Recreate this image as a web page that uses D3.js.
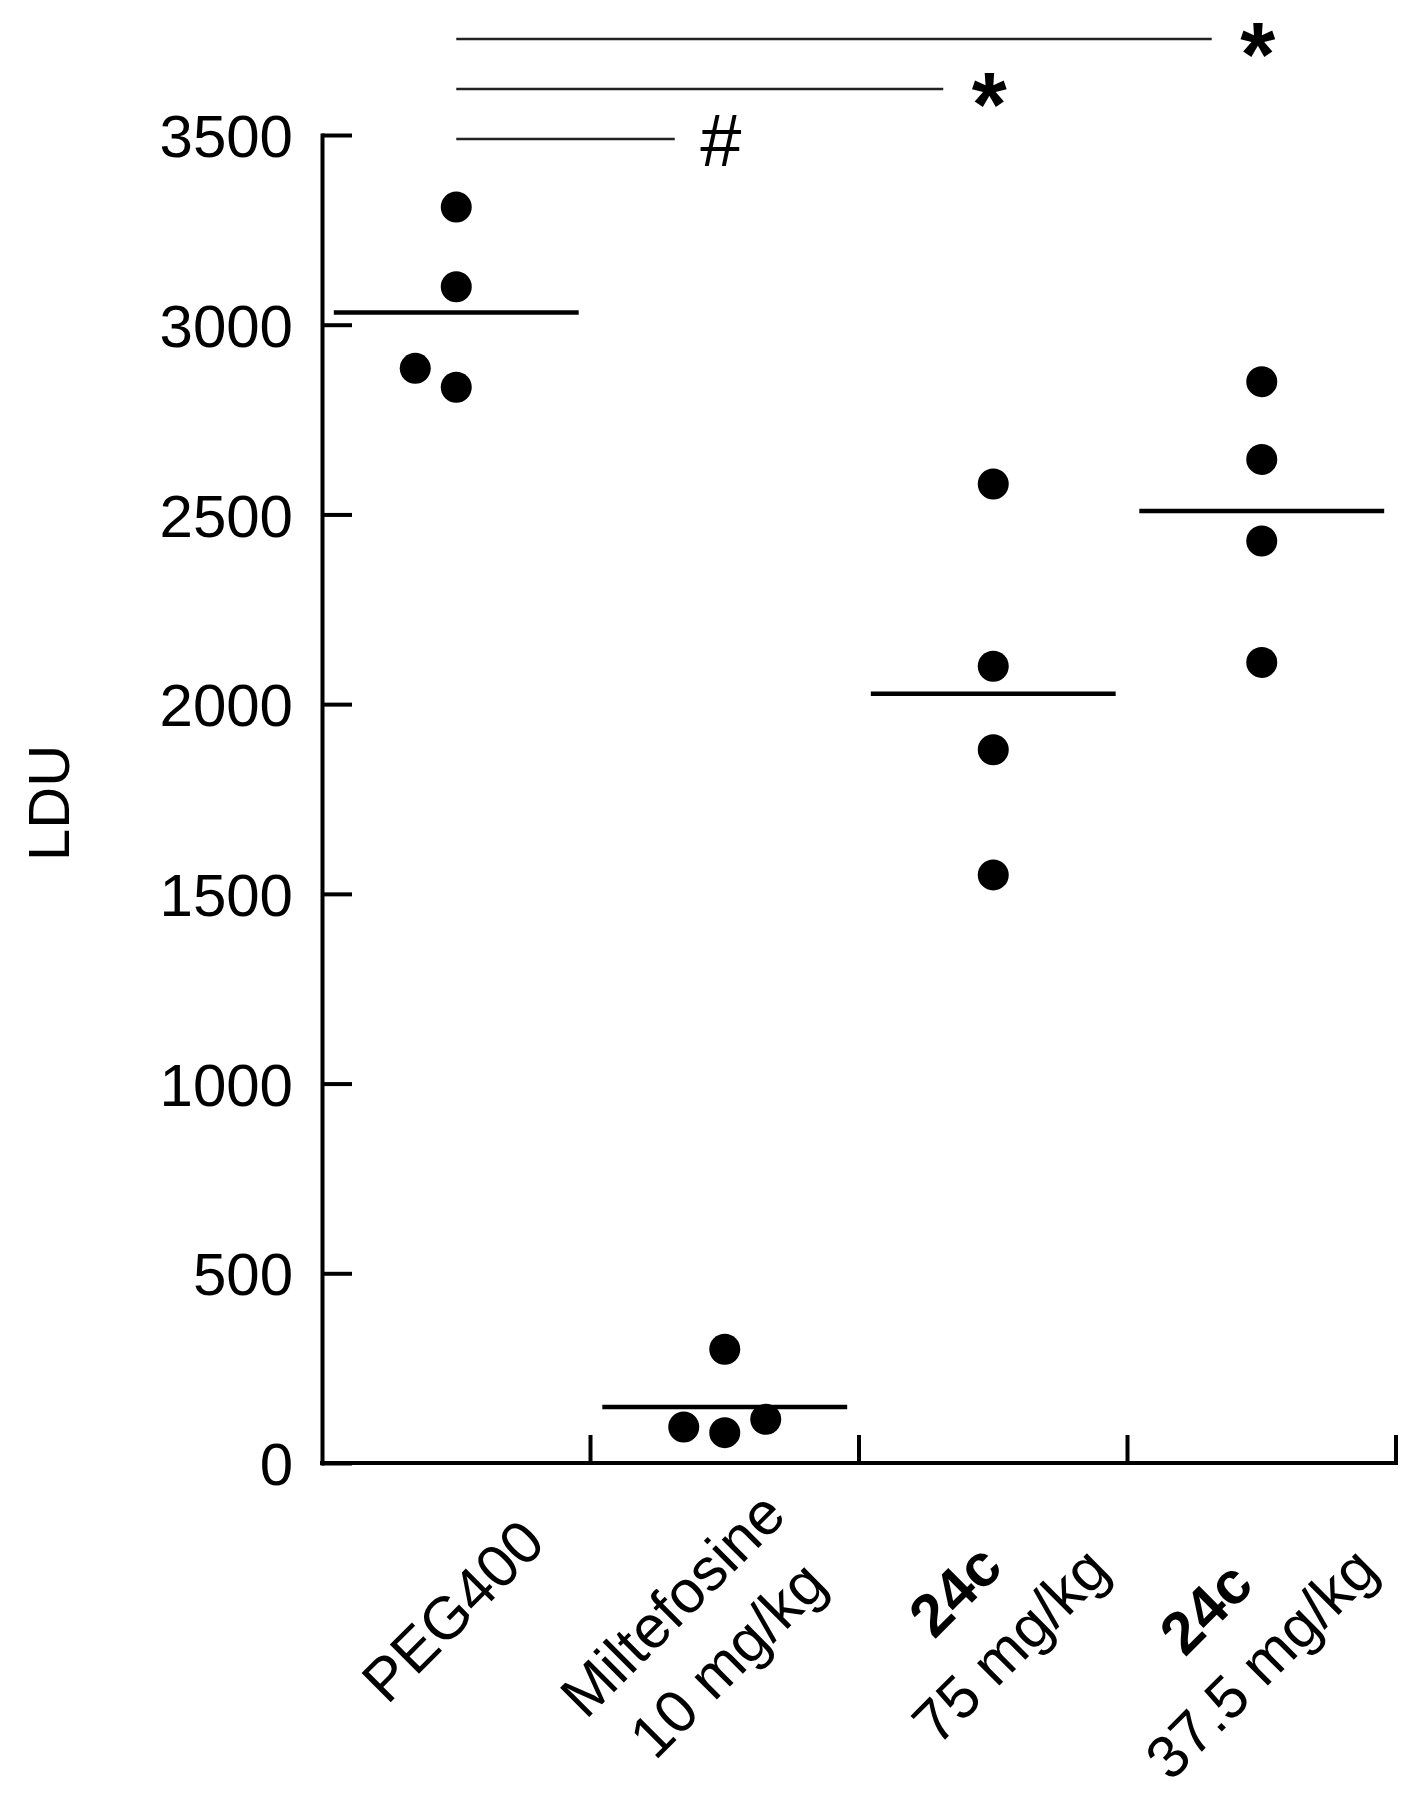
<!DOCTYPE html>
<html>
<head>
<meta charset="utf-8">
<script src="https://cdn.jsdelivr.net/npm/d3@7"></script>
<style>
  body { margin: 0; background: #fff; }
  svg { display: block; }
</style>
</head>
<body>
<div id="chart"></div>
<script>
// groups on the x axis and how their labels break into lines
const groups = ['PEG400', 'Miltefosine 10 mg/kg', '24c 75 mg/kg', '24c 37.5 mg/kg'];
const labelLines = [['PEG400'], ['Miltefosine', '10 mg/kg'], ['24c', '75 mg/kg'], ['24c', '37.5 mg/kg']];
const compoundIds = ['24c'];

// LDU per animal
const peg400 = [3310, 3100, 2885, 2835];
const miltefosine = [300, 115, 95, 80];
const c24High = [2580, 2100, 1880, 1550];
const c24Low = [2850, 2645, 2430, 2110];
const series = [peg400, miltefosine, c24High, c24Low];

const yTicks = [0, 500, 1000, 1500, 2000, 2500, 3000, 3500];

// significance vs PEG400
const compareTargets = ['Miltefosine 10 mg/kg', '24c 75 mg/kg', '24c 37.5 mg/kg'];
const compareMarks = ['#', '*', '*'];

const W = 1422;
const H = 1800;
const FONT = '"Liberation Sans", Arial, Helvetica, sans-serif';
const dotR = 15.5;
const dodgeStep = 41;

const x = d3.scaleBand().domain(groups).range([322, 1396]);
const y = d3.scaleLinear().domain([0, 3500]).range([1463, 135]);
const bw = x.bandwidth();
const cx = (g) => x(g) + bw / 2;

const svg = d3
  .select('#chart')
  .append('svg')
  .attr('width', W)
  .attr('height', H)
  .attr('font-family', FONT);

svg.append('rect').attr('width', W).attr('height', H).attr('fill', '#fff');

// y axis, ticks pointing inward
const yAxis = svg
  .append('g')
  .attr('transform', `translate(${x.range()[0]},0)`)
  .call(
    d3
      .axisLeft(y)
      .tickValues(yTicks)
      .tickFormat(d3.format('d'))
      .tickSize(-30)
      .tickSizeOuter(0)
      .tickPadding(29)
  )
  .attr('font-size', 60)
  .attr('font-family', FONT);
yAxis.select('.domain').attr('stroke', '#000').attr('stroke-width', 4).attr('stroke-linecap', 'square');
yAxis.selectAll('.tick line').attr('stroke', '#000').attr('stroke-width', 4);
yAxis.selectAll('.tick text').attr('fill', '#000').attr('dy', '0.36em');

// x axis with ticks at the group boundaries
const xAxis = svg.append('g');
xAxis
  .append('line')
  .attr('x1', x.range()[0])
  .attr('x2', x.range()[1])
  .attr('y1', y(0))
  .attr('y2', y(0))
  .attr('stroke', '#000')
  .attr('stroke-width', 4)
  .attr('stroke-linecap', 'square');
xAxis
  .selectAll('line.tick')
  .data(groups)
  .join('line')
  .attr('class', 'tick')
  .attr('x1', (g) => x(g) + bw)
  .attr('x2', (g) => x(g) + bw)
  .attr('y1', y(0))
  .attr('y2', y(0) - 28)
  .attr('stroke', '#000')
  .attr('stroke-width', 4);

// axis title
svg
  .append('text')
  .attr('transform', `translate(48,${(y.range()[0] + y.range()[1]) / 2 + 4}) rotate(-90)`)
  .attr('text-anchor', 'middle')
  .attr('dy', '0.36em')
  .attr('font-size', 58)
  .text('LDU');

// dodge points that would overlap (lowest stays centred, others alternate left/right)
function dodge(values) {
  const order = values.map((v, i) => ({ v, i })).sort((a, b) => a.v - b.v);
  const offsets = new Array(values.length).fill(0);
  let cluster = [];
  const flush = () => {
    cluster.forEach((p, k) => {
      const side = k === 0 ? 0 : k % 2 === 1 ? -Math.ceil(k / 2) : Math.ceil(k / 2);
      offsets[p.i] = side * dodgeStep;
    });
    cluster = [];
  };
  order.forEach((p) => {
    const last = cluster[cluster.length - 1];
    if (last && Math.abs(y(last.v) - y(p.v)) >= dotR * 2) flush();
    cluster.push(p);
  });
  flush();
  return offsets;
}

const points = [];
series.forEach((vals, gi) => {
  const off = dodge(vals);
  vals.forEach((v, i) => points.push({ group: groups[gi], value: v, dx: off[i] }));
});

svg
  .append('g')
  .selectAll('circle')
  .data(points)
  .join('circle')
  .attr('cx', (d) => cx(d.group) + d.dx)
  .attr('cy', (d) => y(d.value))
  .attr('r', dotR)
  .attr('fill', '#000');

// group means
const halfMean = bw * 0.456;
svg
  .append('g')
  .selectAll('line')
  .data(groups.map((g, i) => ({ group: g, mean: d3.mean(series[i]) })))
  .join('line')
  .attr('x1', (d) => cx(d.group) - halfMean)
  .attr('x2', (d) => cx(d.group) + halfMean)
  .attr('y1', (d) => y(d.mean))
  .attr('y2', (d) => y(d.mean))
  .attr('stroke', '#000')
  .attr('stroke-width', 4.5);

// rotated category labels: block right-aligned, lines centred
groups.forEach((g, i) => {
  const lines = labelLines[i];
  const lg = svg.append('g').attr('transform', `translate(${cx(g) + 76},1530) rotate(-45)`);
  const texts = lines.map((line, li) =>
    lg
      .append('text')
      .attr('font-size', 60)
      .attr('font-weight', compoundIds.includes(line) ? 'bold' : 'normal')
      .attr('text-anchor', 'middle')
      .attr('y', (li - (lines.length - 1) / 2) * 78)
      .attr('dy', '0.36em')
      .text(line)
  );
  const maxLen = d3.max(texts, (t) => t.node().getComputedTextLength());
  texts.forEach((t) => t.attr('x', -maxLen / 2));
});

// significance bars
const sig = svg.append('g');
compareTargets.forEach((target, k) => {
  const barY = y(3500) + 4 - k * 50;
  sig
    .append('line')
    .attr('x1', cx(groups[0]))
    .attr('x2', cx(target) - 50)
    .attr('y1', barY)
    .attr('y2', barY)
    .attr('stroke', '#222')
    .attr('stroke-width', 2.5);
  const mark = compareMarks[k];
  const isHash = mark === '#';
  const size = isHash ? 74 : 90;
  const lift = isHash ? 0.36 : 0.52;
  sig
    .append('text')
    .attr('x', cx(target) - 4)
    .attr('y', barY + lift * size)
    .attr('text-anchor', 'middle')
    .attr('font-size', size)
    .attr('font-weight', isHash ? 'normal' : 'bold')
    .text(mark);
});
</script>
</body>
</html>
